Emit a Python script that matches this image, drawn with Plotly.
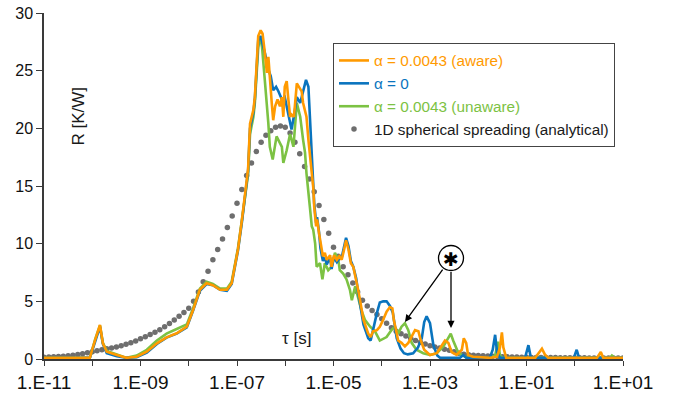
import numpy as np
import plotly.graph_objects as go

# ---------------- data ----------------
# x values are log10(tau [s]); y values are R [K/W]

AWARE_LOG_TAU = [-11.00, -10.05, -9.94, -9.84, -9.78, -9.70, -9.49, -9.29, -9.08, -8.87,
                 -8.66, -8.46, -8.25, -8.04, -7.91, -7.77, -7.63, -7.50, -7.35, -7.21,
                 -7.11, -7.04, -6.98, -6.90, -6.83, -6.77, -6.73, -6.66, -6.63, -6.59,
                 -6.56, -6.51, -6.47, -6.43, -6.41, -6.38, -6.35, -6.32, -6.28, -6.25,
                 -6.21, -6.16, -6.11, -6.07, -6.04, -6.01, -5.97, -5.94, -5.90, -5.87,
                 -5.82, -5.76, -5.71, -5.66, -5.63, -5.59, -5.56, -5.52, -5.49, -5.45,
                 -5.42, -5.40, -5.36, -5.34, -5.30, -5.27, -5.22, -5.18, -5.14, -5.07,
                 -5.04, -4.99, -4.93, -4.88, -4.83, -4.78, -4.74, -4.69, -4.64, -4.59,
                 -4.53, -4.49, -4.45, -4.42, -4.38, -4.33, -4.28, -4.23, -4.18, -4.10,
                 -4.04, -3.97, -3.90, -3.83, -3.78, -3.75, -3.70, -3.66, -3.59, -3.52,
                 -3.45, -3.38, -3.31, -3.24, -3.19, -3.12, -3.00, -2.86, -2.76, -2.69,
                 -2.62, -2.55, -2.45, -2.34, -2.30, -2.25, -2.21, -2.11, -1.76, -1.61,
                 -1.55, -1.51, -1.48, -1.42, -0.82, -0.75, -0.68, -0.62, -0.55, 0.46,
                 0.54, 0.59, 1.00]
AWARE_R = [0.1, 0.1, 1.65, 2.95, 1.36, 0.63, 0.35, 0.1, 0.2, 0.63,
           1.36, 1.88, 2.23, 2.8, 4.25, 6.0, 6.57, 6.4, 6.0, 6.0,
           6.57, 8.0, 9.5, 12.0, 14.5, 16.5, 20.4, 21.6, 22.7, 25.9,
           28.0, 28.5, 28.2, 26.8, 25.9, 24.8, 26.2, 24.2, 22.2, 20.7,
           21.9, 22.5, 21.9, 22.7, 21.0, 23.6, 24.1, 22.7, 21.0, 21.2,
           21.0, 23.9, 23.6, 23.2, 22.2, 21.6, 21.0, 19.0, 17.5, 16.1,
           14.9, 13.2, 11.5, 12.1, 10.9, 10.0, 8.9, 9.2, 8.6, 9.0,
           8.0, 9.0, 8.6, 8.9, 8.6, 9.5, 10.3, 9.5, 8.3, 8.0,
           6.9, 6.0, 5.1, 4.2, 3.4, 2.8, 2.2, 1.9, 2.4, 2.5,
           2.8, 3.4, 4.1, 4.5, 4.4, 3.4, 2.2, 1.6, 1.4, 1.1,
           1.4, 1.9, 2.5, 2.4, 1.6, 0.8, 0.35, 0.5, 1.1, 1.6,
           1.4, 0.6, 0.35, 0.8, 1.8, 1.4, 0.35, 0.2, 0.1, 0.2,
           1.0, 2.3, 1.0, 0.1, 0.1, 0.5, 0.9, 0.4, 0.1, 0.1,
           0.6, 0.1, 0.1]

ZERO_LOG_TAU = [-11.00, -10.05, -9.94, -9.84, -9.78, -9.70, -9.49, -9.29, -9.08, -8.87,
                -8.66, -8.46, -8.25, -8.04, -7.91, -7.77, -7.63, -7.50, -7.35, -7.21,
                -7.11, -7.04, -6.98, -6.90, -6.83, -6.77, -6.73, -6.66, -6.63, -6.59,
                -6.56, -6.51, -6.47, -6.42, -6.35, -6.30, -6.25, -6.19, -6.14, -6.07,
                -6.01, -5.94, -5.87, -5.81, -5.76, -5.69, -5.63, -5.57, -5.52, -5.49,
                -5.45, -5.42, -5.40, -5.36, -5.34, -5.30, -5.27, -5.22, -5.18, -5.14,
                -5.07, -5.04, -4.99, -4.93, -4.88, -4.83, -4.78, -4.74, -4.69, -4.64,
                -4.59, -4.53, -4.49, -4.45, -4.42, -4.38, -4.33, -4.28, -4.23, -4.18,
                -4.10, -4.04, -3.97, -3.90, -3.83, -3.77, -3.69, -3.61, -3.54, -3.46,
                -3.35, -3.25, -3.17, -3.12, -3.07, -3.00, -2.93, -2.85, -2.79, -2.38,
                -2.31, -2.25, -1.76, -1.70, -1.65, -1.61, -1.55, -1.03, -0.96, -0.91,
                -0.02, 0.04, 0.09, 1.00]
ZERO_R = [0.1, 0.1, 1.5, 2.8, 1.3, 0.5, 0.25, 0.1, 0.15, 0.55,
          1.3, 1.85, 2.2, 2.75, 4.2, 5.9, 6.5, 6.4, 6.0, 5.9,
          6.5, 7.9, 9.4, 11.8, 14.3, 16.3, 20.0, 21.4, 22.5, 25.5,
          27.6, 28.0, 27.4, 26.5, 25.1, 24.5, 23.3, 23.6, 23.2, 22.5,
          22.7, 21.3, 19.9, 21.3, 22.7, 22.2, 23.3, 24.2, 23.6, 20.7,
          17.3, 15.2, 13.5, 11.8, 12.3, 11.0, 9.6, 8.5, 8.8, 8.2,
          8.8, 7.8, 8.8, 8.4, 8.7, 8.8, 9.8, 10.5, 9.8, 8.5,
          8.0, 7.0, 5.8, 4.8, 3.9, 3.0, 2.4, 1.8, 1.6, 2.6,
          4.0, 4.9, 5.0, 5.0, 4.6, 4.0, 1.8, 0.9, 0.5, 0.4,
          0.5, 1.0, 1.8, 3.2, 3.7, 3.1, 1.2, 0.3, 0.1, 0.1,
          0.35, 0.1, 0.1, 0.8, 2.1, 0.6, 0.1, 0.1, 1.2, 0.1,
          0.1, 0.8, 0.1, 0.1]

UNAWARE_LOG_TAU = [-11.00, -10.05, -9.94, -9.84, -9.78, -9.70, -9.49, -9.29, -9.08, -8.87,
                   -8.66, -8.46, -8.25, -8.04, -7.91, -7.77, -7.63, -7.50, -7.35, -7.21,
                   -7.11, -7.04, -6.98, -6.90, -6.83, -6.77, -6.73, -6.66, -6.63, -6.59,
                   -6.56, -6.52, -6.48, -6.43, -6.38, -6.35, -6.32, -6.26, -6.18, -6.11,
                   -6.07, -6.04, -5.97, -5.90, -5.83, -5.76, -5.69, -5.63, -5.59, -5.56,
                   -5.52, -5.49, -5.45, -5.42, -5.38, -5.35, -5.28, -5.23, -5.18, -5.11,
                   -5.04, -4.97, -4.90, -4.87, -4.80, -4.73, -4.66, -4.62, -4.55, -4.49,
                   -4.42, -4.35, -4.24, -4.14, -4.04, -3.90, -3.80, -3.73, -3.66, -3.59,
                   -3.52, -3.45, -3.38, -3.28, -3.14, -3.00, -2.86, -2.72, -2.62, -2.57,
                   -2.52, -2.41, -2.27, -1.76, -1.65, -1.59, -1.55, -1.49, 0.73, 0.77,
                   0.83, 1.00]
UNAWARE_R = [0.1, 0.1, 1.7, 2.9, 1.4, 0.7, 0.4, 0.1, 0.3, 0.8,
             1.6, 2.2, 2.6, 3.0, 4.4, 6.1, 6.7, 6.5, 6.1, 6.1,
             6.7, 8.1, 9.6, 12.0, 14.3, 16.0, 19.5, 21.0, 22.2, 25.0,
             27.0, 28.0, 27.0, 24.5, 22.2, 20.4, 18.4, 17.3, 19.3, 18.7,
             18.4, 17.0, 18.1, 19.5, 18.4, 22.2, 21.0, 19.0, 17.9, 16.1,
             14.7, 13.2, 11.5, 11.2, 10.0, 8.0, 8.3, 6.9, 8.3, 7.7,
             8.0, 9.2, 8.6, 7.7, 7.4, 6.9, 6.0, 5.1, 6.3, 5.4,
             4.2, 3.4, 2.8, 2.4, 1.6, 1.9, 2.5, 2.8, 2.2, 2.8,
             3.1, 2.5, 1.4, 0.8, 0.5, 0.35, 0.5, 1.1, 1.9, 2.2,
             1.6, 0.5, 0.2, 0.1, 0.3, 1.5, 0.3, 0.1, 0.1, 0.3,
             0.1, 0.1]

# analytical curve: one value every 0.1 decade from 1E-11 to 1E+01
ANALYTIC_LOG_TAU_FIRST, ANALYTIC_LOG_TAU_STEP = -11.0, 0.1
ANALYTIC_R = [0.15, 0.17, 0.19, 0.21, 0.24, 0.28, 0.33, 0.39, 0.46, 0.54,
              0.62, 0.71, 0.80, 0.88, 0.96, 1.05, 1.15, 1.27, 1.41, 1.57,
              1.75, 1.93, 2.12, 2.32, 2.54, 2.80, 3.08, 3.38, 3.70, 4.03,
              4.40, 5.0, 5.8, 6.7, 7.6, 8.6, 9.5, 10.4, 11.4, 12.4,
              13.5, 14.7, 15.9, 17.0, 18.0, 18.8, 19.4, 19.8, 20.1, 20.2,
              20.1, 19.6, 18.8, 17.8, 16.7, 15.6, 14.5, 13.3, 12.1, 10.9,
              9.7, 8.9, 8.0, 7.3, 6.6, 5.8, 5.1, 4.6, 4.2, 3.85,
              3.5, 3.1, 2.7, 2.4, 2.2, 2.0, 1.8, 1.6, 1.45, 1.3,
              1.15, 1.05, 0.95, 0.85, 0.75, 0.62, 0.5, 0.42, 0.37, 0.33,
              0.3, 0.28, 0.26, 0.24, 0.22, 0.2, 0.19, 0.18, 0.17, 0.16,
              0.15, 0.14, 0.14, 0.13, 0.13, 0.12, 0.12, 0.11, 0.11, 0.11,
              0.10, 0.10, 0.10, 0.09, 0.09, 0.09, 0.09, 0.08, 0.08, 0.08,
              0.08]

X_TICK_EXPONENTS = list(range(-11, 2))
X_TICK_LABELS = ["1.E-11", "", "1.E-09", "", "1.E-07", "", "1.E-05", "",
                 "1.E-03", "", "1.E-01", "", "1.E+01"]
Y_TICKS = [0, 5, 10, 15, 20, 25, 30]

NAMES = ["α = 0.0043 (aware)", "α = 0", "α = 0.0043 (unaware)",
         "1D spherical spreading (analytical)"]
COLORS = ["#FF9A00", "#0A74BE", "#7CC243", "#6E6E6E"]

# ---------------- figure ----------------
analytic_log_tau = ANALYTIC_LOG_TAU_FIRST + ANALYTIC_LOG_TAU_STEP * np.arange(len(ANALYTIC_R))

fig = go.Figure()


def legend_name(text, color):
    return f'<span style="color:{color}">{text}</span>'


fig.add_trace(go.Scatter(
    x=10 ** analytic_log_tau, y=ANALYTIC_R, mode="markers",
    marker=dict(color=COLORS[3], size=5.5, line=dict(width=0)),
    name=legend_name(NAMES[3], "#1a1a1a"), legendrank=4))

series = [(UNAWARE_LOG_TAU, UNAWARE_R, 2, 3),
          (ZERO_LOG_TAU, ZERO_R, 1, 2),
          (AWARE_LOG_TAU, AWARE_R, 0, 1)]
for lt, r, idx, rank in series:
    fig.add_trace(go.Scatter(
        x=10 ** np.array(lt), y=r, mode="lines",
        line=dict(color=COLORS[idx], width=2.6),
        name=legend_name(NAMES[idx], COLORS[idx]), legendrank=rank))

axis_col = "#3a3a3a"
fig.update_xaxes(
    type="log", range=[-11, 1], automargin=False,
    tickvals=[10.0 ** e for e in X_TICK_EXPONENTS], ticktext=X_TICK_LABELS,
    ticks="outside", ticklen=5, tickwidth=1.3, tickcolor=axis_col,
    showline=True, linecolor=axis_col, linewidth=1.5,
    showgrid=False, zeroline=False,
    tickfont=dict(size=19, color="#111"))
fig.update_yaxes(
    range=[0, 30], tickvals=Y_TICKS, automargin=False,
    ticks="outside", ticklen=6, tickwidth=1.3, tickcolor=axis_col,
    showline=True, linecolor=axis_col, linewidth=1.5,
    showgrid=False, zeroline=False,
    tickfont=dict(size=16, color="#111"))

W, H = 675, 396
ML, MR, MT, MB = 44, 52, 13, 37
PW, PH = W - ML - MR, H - MT - MB


def px(xp):
    return (xp - ML) / PW


def py(yp):
    return (H - MB - yp) / PH


fig.update_layout(
    width=W, height=H,
    margin=dict(l=ML, r=MR, t=MT, b=MB, autoexpand=False),
    plot_bgcolor="white", paper_bgcolor="white",
    font=dict(family="Liberation Sans, Arial, sans-serif", color="#1a1a1a"),
    showlegend=True,
    legend=dict(x=px(333), y=py(43), xanchor="left", yanchor="top",
                bgcolor="white", bordercolor="#444", borderwidth=1,
                font=dict(size=15.3), tracegroupgap=0, itemwidth=30),
)

# circle with asterisk
cx, cy, cr = 451, 258, 12.5
fig.add_shape(type="circle", xref="paper", yref="paper",
              x0=px(cx - cr), x1=px(cx + cr), y0=py(cy + cr), y1=py(cy - cr),
              line=dict(color="black", width=1.3), fillcolor="white")

annotations = [
    dict(text="R [K/W]", x=px(78), y=py(132), xref="paper", yref="paper",
         textangle=-90, showarrow=False, xshift=-12, yshift=16,
         font=dict(size=17, color="#1a1a1a")),
    dict(text="τ [s]", x=px(296), y=py(338), xref="paper", yref="paper",
         showarrow=False, yshift=-12, font=dict(size=17, color="#1a1a1a")),
    dict(text="✱", x=px(cx), y=py(cy), xref="paper", yref="paper",
         showarrow=False, xshift=10, yshift=-14,
         font=dict(size=19, color="black", family="DejaVu Sans")),
    dict(text="", x=px(405), y=py(322), xref="paper", yref="paper",
         showarrow=True, ax=38.7, ay=-53.8, arrowhead=2, arrowsize=1.1,
         arrowwidth=1.3, arrowcolor="black", standoff=0, startstandoff=0),
    dict(text="", x=px(451), y=py(328), xref="paper", yref="paper",
         showarrow=True, ax=0, ay=-57.5, arrowhead=2, arrowsize=1.1,
         arrowwidth=1.3, arrowcolor="black", standoff=0, startstandoff=0),
]
fig.update_layout(annotations=annotations)

fig.write_html("out.html")
